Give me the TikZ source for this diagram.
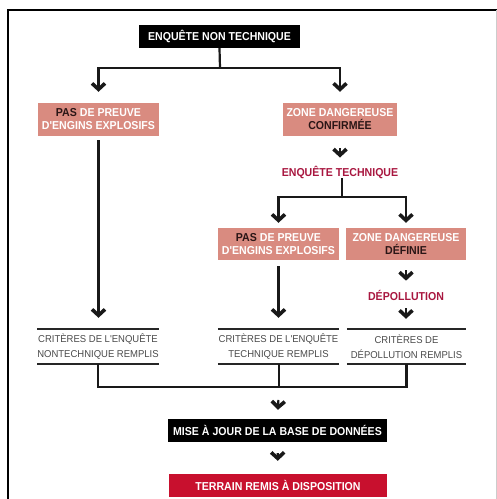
\documentclass[tikz,border=0pt]{standalone}
\usepackage{fontspec}
\newfontfamily\condfont[FakeStretch=0.92, BoldFont={Liberation Sans Bold}, BoldFeatures={FakeStretch=0.92}]{Liberation Sans}
\newfontfamily\critfont[FakeStretch=0.95]{Liberation Sans}
\usetikzlibrary{arrows.meta,positioning,calc}
\definecolor{salmon}{HTML}{D98B80}
\definecolor{crimson}{HTML}{A8163F}
\definecolor{redbox}{HTML}{C8102E}
\definecolor{critgray}{HTML}{4A4A4A}
\definecolor{darktxt}{HTML}{2A1616}
\begin{document}
\begin{tikzpicture}[
  x=1pt,y=-1pt,
  darkbox/.style={fill=black, text=white, font=\condfont\bfseries\fontsize{11.5}{13}\selectfont, inner sep=0pt, minimum height=23pt, align=center},
  pinkbox/.style={fill=salmon, text=white, font=\condfont\bfseries\fontsize{11.5}{13}\selectfont, inner sep=0pt, minimum height=33pt, align=center},
  stage/.style={text=crimson, font=\condfont\bfseries\fontsize{11.5}{13}\selectfont, inner sep=0pt},
  crit/.style={text=critgray, font=\critfont\fontsize{10}{15}\selectfont, inner sep=0pt, minimum width=120pt, minimum height=35pt, align=center,
    append after command={(\tikzlastnode.north west) edge[critline] (\tikzlastnode.north east)
      (\tikzlastnode.south west) edge[critline] (\tikzlastnode.south east)}},
  critline/.style={draw=black!85, line width=2pt},
  line/.style={draw=black!90, line width=2.2pt},
  arr/.style={line, -{Straight Barb[length=6pt, width=13pt, line width=3.6pt]}},
  chev/.style={arr}
]
\useasboundingbox (0,0) rectangle (497,499);
% frame
\draw[line width=2.4pt] (8,499) -- (8,10) -- (497,10);
\draw[black!20, line width=0.8pt] (496,10) -- (496,499);

% first level
\node[darkbox, minimum width=161pt] (enq) at (219.5,36.5) {ENQUÊTE NON TECHNIQUE};
\node[pinkbox, minimum width=121pt] (pas1) at (98.5,119.5) {{\color{darktxt}PAS} DE PREUVE\\D'ENGINS EXPLOSIFS};
\node[pinkbox, minimum width=114pt] (conf) at (340,119.5) {ZONE DANGEREUSE\\{\color{darktxt}CONFIRMÉE}};
\node[stage] (enqt) at (340,172) {ENQUÊTE TECHNIQUE};

% second level
\node[pinkbox, minimum width=121pt, minimum height=32pt] (pas2) at (278.5,244) {{\color{darktxt}PAS} DE PREUVE\\D'ENGINS EXPLOSIFS};
\node[pinkbox, minimum width=120pt, minimum height=32pt] (defn) at (406,244) {ZONE DANGEREUSE\\{\color{darktxt}DÉFINIE}};
\node[stage] (depol) at (406,295) {DÉPOLLUTION};

% criteria
\node[crit] (crit1) at (98,346.5) {CRITÈRES DE L'ENQUÊTE\\NONTECHNIQUE REMPLIS};
\node[crit, minimum width=121pt] (crit2) at (278.5,346.5) {CRITÈRES DE L'ENQUÊTE\\TECHNIQUE REMPLIS};
\node[crit, minimum width=119pt] (crit3) at (406.5,346.5) {CRITÈRES DE\\DÉPOLLUTION REMPLIS};

% end
\node[darkbox, minimum width=219pt] (maj) at (277.5,430.5) {MISE À JOUR DE LA BASE DE DONNÉES};
\node[darkbox, fill=redbox, minimum width=218pt] (terr) at (278,485.5) {TERRAIN REMIS À DISPOSITION};

% connectors
\coordinate (j1) at (220,68);
\draw[line] (enq.south) -- (j1);
\draw[arr, shorten >=11pt] (j1) -| (pas1.north);
\draw[arr, shorten >=11pt] (j1) -| (conf.north);
\draw[chev, shorten <=12pt, shorten >=8pt] (conf.south) -- (enqt.north);

\coordinate (j2) at (342,197);
\draw[line] (enqt.south -| j2) -- (j2);
\draw[arr, shorten >=5pt] (j2) -| (pas2.north);
\draw[arr, shorten >=5pt] (j2) -| (defn.north);

\draw[arr, shorten <=4pt, shorten >=11pt] (pas1.south) -- (pas1.south |- crit1.north);
\draw[arr, shorten <=6pt, shorten >=11pt] (pas2.south) -- (pas2.south |- crit2.north);
\draw[chev, shorten <=10pt, shorten >=9pt] (defn.south) -- (depol.north);
\draw[chev, shorten <=8pt, shorten >=10pt] (depol.south) -- (depol.south |- crit3.north);

\coordinate (j3) at (279,387);
\draw[line] (crit1.south) |- (crit3.south |- j3) -- (crit3.south);
\draw[line] (crit2.south -| j3) -- (j3);
\draw[chev, shorten <=13pt, shorten >=9pt] (j3) -- (maj.north);
\draw[chev, shorten <=11pt, shorten >=13pt] (maj.south) -- (terr.north);
\end{tikzpicture}
\end{document}
